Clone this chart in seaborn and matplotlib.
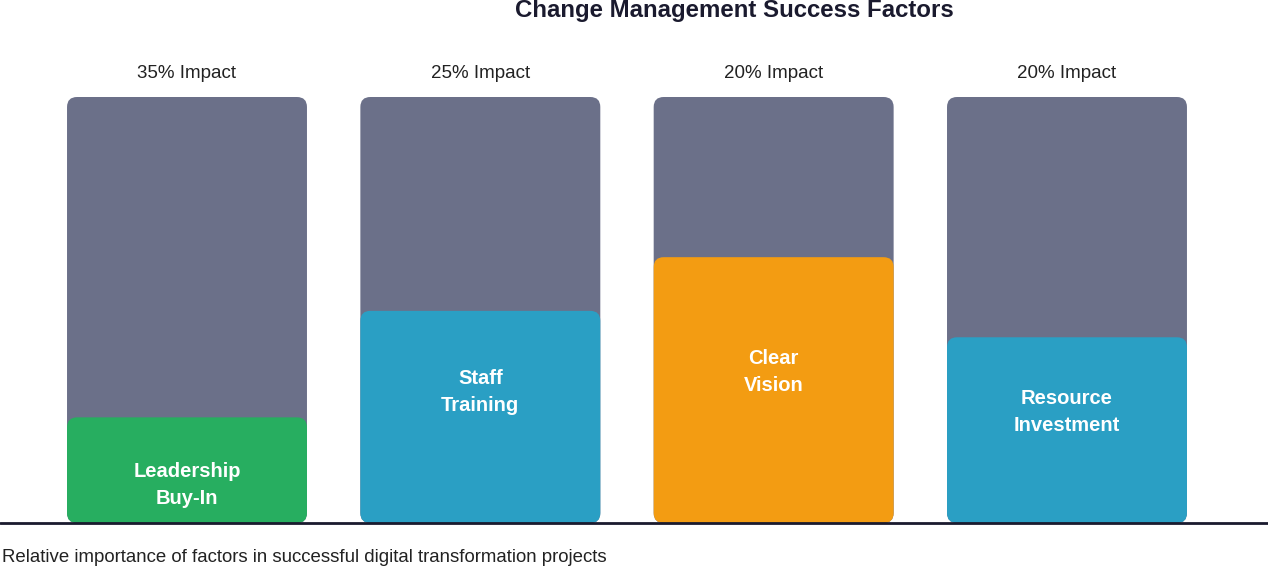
import matplotlib
matplotlib.use('Agg')
import matplotlib.pyplot as plt
import pandas as pd
import seaborn as sns
from matplotlib.patches import FancyBboxPatch

# data
factors = ['Leadership\nBuy-In', 'Staff\nTraining', 'Clear\nVision', 'Resource\nInvestment']
impact_labels = ['35% Impact', '25% Impact', '20% Impact', '20% Impact']
fill_values = [24.8, 49.8, 62.4, 43.6]
full_values = [100, 100, 100, 100]
label_y = [8.9, 30.7, 35.4, 26.0]
bar_colors = ['#27ae60', '#2a9fc4', '#f39c12', '#2a9fc4']

sns.set_theme(style='white')
plt.rcParams['font.family'] = ['Liberation Sans', 'DejaVu Sans']

df = pd.DataFrame({'factor': factors, 'fill': fill_values, 'full': full_values})

fig = plt.figure(figsize=(12.68, 5.68), dpi=100)
ax = fig.add_axes([0, 45 / 568, 1, 426 / 568])

sns.barplot(data=df, x='factor', y='full', color='#6b7089', width=0.818,
            saturation=1, ax=ax)
sns.barplot(data=df, x='factor', y='fill', hue='factor', palette=bar_colors,
            width=0.818, saturation=1, legend=False, ax=ax)


def round_bars(ax, radius_px=10):
    # swap square bars for rounded ones, same geometry
    sx = 1 / 293.33
    sy = 100 / 426
    for p in list(ax.patches):
        x, y = p.get_x(), p.get_y()
        w, h = p.get_width(), p.get_height()
        fb = FancyBboxPatch((x, y), w, h,
                            boxstyle=f'round,pad=0,rounding_size={radius_px * sx}',
                            mutation_aspect=sy / sx,
                            facecolor=p.get_facecolor(), edgecolor='none',
                            zorder=p.get_zorder())
        p.remove()
        ax.add_patch(fb)


ax.set_xlim(-187 / 293.33, (1268 - 187) / 293.33)
ax.set_ylim(0, 100)
round_bars(ax)

for i, (name, imp) in enumerate(zip(factors, impact_labels)):
    ax.text(i, 105.6, imp, ha='center', va='center', fontsize=13.5,
            color='#222222', clip_on=False)
    ax.text(i, label_y[i], name, ha='center', va='center', fontsize=14.5,
            fontweight='bold', color='white', linespacing=1.55, zorder=5)

ax.axhline(0, color='#1a1a2e', linewidth=2, zorder=6, clip_on=False)
ax.set_xticks([])
ax.set_yticks([])
ax.set_xlabel('')
ax.set_ylabel('')
sns.despine(ax=ax, left=True, bottom=True)

fig.text(734 / 1268, 1 - 10 / 568, 'Change Management Success Factors',
         ha='center', va='center', fontsize=17.3, fontweight='bold', color='#1a1a2e')
fig.text(2 / 1268, 1 - 557 / 568,
         'Relative importance of factors in successful digital transformation projects',
         ha='left', va='center', fontsize=13.4, color='#222222')

fig.savefig('out.png', dpi=100)
